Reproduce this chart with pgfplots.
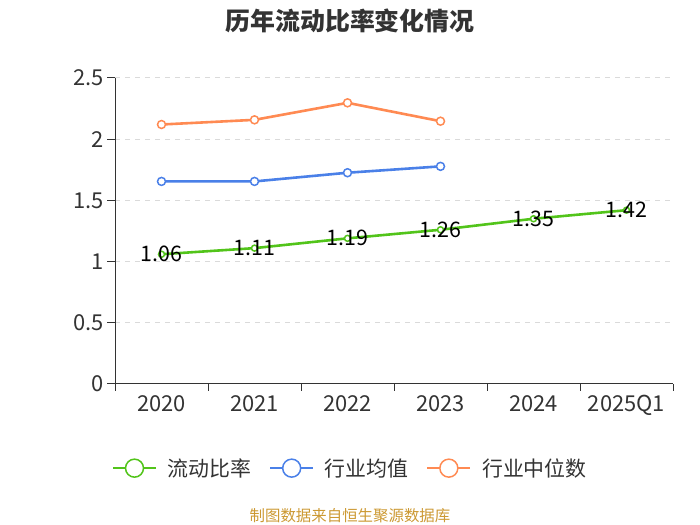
\documentclass[border=0pt]{standalone}
\usepackage{fontspec}
\setmainfont{Noto Sans CJK SC}
\usepackage{pgfplots}
\pgfplotsset{compat=1.18}
\definecolor{cgreen}{RGB}{82,196,26}
\definecolor{cblue}{RGB}{74,128,232}
\definecolor{corange}{RGB}{255,138,82}
\definecolor{cgrid}{RGB}{218,218,218}
\definecolor{ctext}{RGB}{51,51,51}
\definecolor{cfoot}{RGB}{204,153,51}
\begin{document}
\begin{tikzpicture}[x=1bp,y=1bp]
\path[use as bounding box] (0,0) rectangle (700,525);
\node[font=\fontsize{25}{28}\selectfont\bfseries, text=ctext] at (350,504) {历年流动比率变化情况};
\node[font=\fontsize{15.5}{18}\selectfont, text=cfoot] at (350,9) {制图数据来自恒生聚源数据库};
\begin{axis}[at={(115bp,141bp)}, anchor=south west, scale only axis,
 width=558bp, height=306bp,
 xmin=-0.5, xmax=5.5, ymin=0, ymax=2.5,
 clip=false,
 axis x line=bottom, axis y line=left,
 axis line style={-, ctext, line width=1pt},
 xtick={0,...,5}, xticklabels={2020,2021,2022,2023,2024,2025Q1},
 minor xtick={-0.5,0.5,...,5.5},
 ytick={0,0.5,1,1.5,2,2.5}, yticklabels={0,0.5,1,1.5,2,2.5},
 tick align=outside,
 major tick length=8bp, minor tick length=7bp,
 major x tick style={draw=none},
 minor x tick style={ctext, line width=1pt},
 major y tick style={ctext, line width=1pt},
 ymajorgrids, xmajorgrids=false,
 y grid style={cgrid, dash pattern=on 5bp off 5bp, line width=1pt},
 /pgf/number format/assume math mode=true,
 tick label style={font=\fontsize{22}{26}\selectfont, text=ctext},
 legend style={at={(0.422,-0.275)}, anchor=center, draw=none, fill=none,
   font=\fontsize{21}{24}\selectfont, text=ctext,
   /tikz/every odd column/.append style={column sep=9bp},
   /tikz/every even column/.append style={column sep=16bp}},
 legend columns=3,
]
\addplot[cgreen, line width=2.6bp, mark=*, mark size=3bp,
  mark options={fill=white, draw=cgreen, line width=1.5bp},
  nodes near coords, point meta=explicit symbolic,
  every node near coord/.style={anchor=center, font=\fontsize{21.5}{24}\selectfont, text=black},
  legend image code/.code={\draw[cgreen, line width=1.5bp] (0bp,0bp)--(43bp,0bp);
    \draw[cgreen, line width=1.5bp, fill=white] (21.5bp,0bp) circle (9bp);}]
  table[meta=l] {
x y l
0 1.06 1.06
1 1.11 1.11
2 1.19 1.19
3 1.26 1.26
4 1.35 1.35
5 1.42 1.42
};
\addlegendentry{流动比率}
\addplot[cblue, line width=2.6bp, mark=*, mark size=4bp,
  mark options={fill=white, draw=cblue, line width=1.5bp},
  legend image code/.code={\draw[cblue, line width=1.5bp] (0bp,0bp)--(43bp,0bp);
    \draw[cblue, line width=1.5bp, fill=white] (21.5bp,0bp) circle (9bp);}]
  coordinates {(0,1.655) (1,1.655) (2,1.726) (3,1.778)};
\addlegendentry{行业均值}
\addplot[corange, line width=2.6bp, mark=*, mark size=4bp,
  mark options={fill=white, draw=corange, line width=1.5bp},
  legend image code/.code={\draw[corange, line width=1.5bp] (0bp,0bp)--(43bp,0bp);
    \draw[corange, line width=1.5bp, fill=white] (21.5bp,0bp) circle (9bp);}]
  coordinates {(0,2.12) (1,2.158) (2,2.297) (3,2.147)};
\addlegendentry{行业中位数}
\end{axis}
\end{tikzpicture}
\end{document}
